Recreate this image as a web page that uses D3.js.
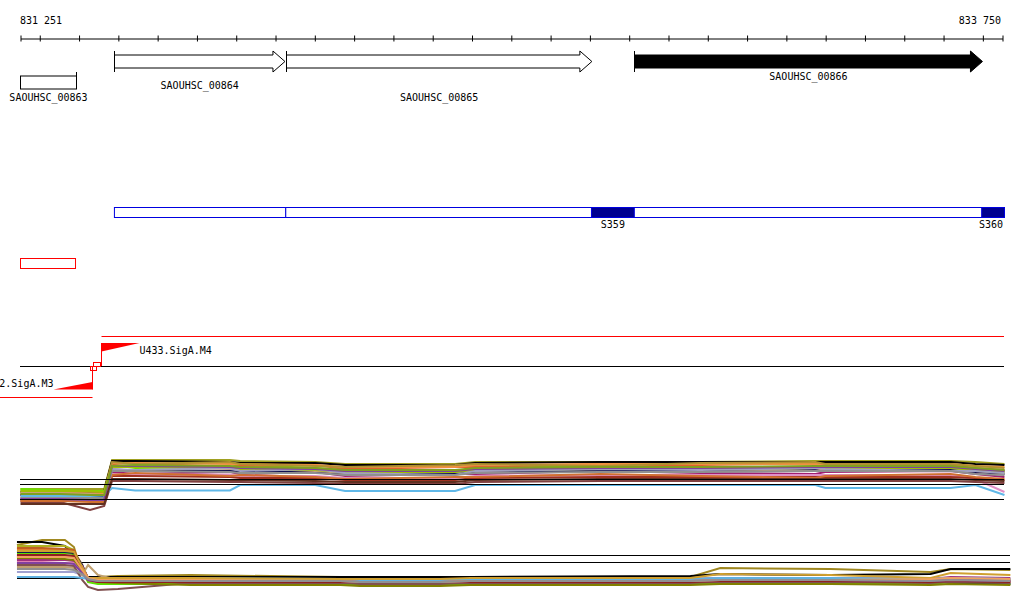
<!DOCTYPE html>
<html><head><meta charset="utf-8">
<script src="https://cdn.jsdelivr.net/npm/d3@7"></script>
<style>
body{margin:0;background:#fff}
svg{display:block}
text{font-family:"DejaVu Sans Mono",monospace;font-size:10px;fill:#000}
</style>
</head><body>
<svg id="c" width="1024" height="611"></svg>
<script>
// ---------- DATA ----------
const viewRange = [831251, 833750];
const axisEndLabels = ["831 251", "833 750"];
const tickValues = [831251,831300,831400,831500,831600,831700,831800,831900,832000,832100,832200,832300,832400,832500,832600,832700,832800,832900,833000,833100,833200,833300,833400,833500,833600,833700,833750];

const geneNames   = ["SAOUHSC_00863","SAOUHSC_00864","SAOUHSC_00865","SAOUHSC_00866"];
const geneStarts  = [831391, 831490, 831926, 832813];
const geneEnds    = [830900, 831924, 832705, 833699];
const geneStrands = ["-", "+", "+", "+"];

const segStarts = [831490, 831926];
const segEnds   = [831926, 833755];
const blockNames  = ["S359", "S360"];
const blockStarts = [832704, 833697];
const blockEnds   = [832813, 833755];

const redBoxStart = 831251, redBoxEnd = 831391;

const promoterNames = ["2.SigA.M3", "U433.SigA.M4"];
const promoterPos   = [831434, 831455];

// panel 1 (probe positions, bp)
const p1Pos = [831251,831352,831428,831464,831484,831543,831784,831810,832001,832077,832357,832408,832727,832981,833274,833299,833618,833681,833755];
const p1Refs = [6.3, 5.14, 2.14];
const p1Colors = ["#a0a020","#000000","#70e000","#e06030","#f09040","#b09030","#a02070","#101050","#e090c8","#c8a078","#804040","#60b8e8","#a03020","#a0c000","#a0a0c0","#d07030","#909090","#8040a0","#80a020","#603020"];
const p1Values = [
 [4.2,4.2,4.2,4.2,10.0,10.0,10.0,9.8,9.6,9.2,9.2,9.6,9.6,9.6,9.8,9.8,9.8,9.6,9.2],
 [3.6,3.6,3.6,3.8,9.8,9.8,9.6,9.4,9.4,9.0,9.0,9.4,9.6,9.6,9.6,9.6,9.6,9.2,9.0],
 [4.2,4.0,3.8,3.8,9.0,8.4,8.6,9.0,8.4,8.0,7.6,8.4,8.8,8.2,8.6,9.0,8.4,8.2,7.8],
 [3.0,3.0,2.8,2.8,9.2,9.4,8.6,8.8,9.0,8.2,8.6,8.6,9.2,8.8,8.4,8.8,9.0,8.4,8.0],
 [3.4,3.4,3.4,3.2,9.4,9.4,9.2,9.2,9.0,8.6,8.6,9.0,9.2,9.2,9.2,9.2,9.2,8.8,8.6],
 [3.8,3.8,3.6,3.6,9.6,9.2,9.6,9.2,8.8,8.6,9.0,9.2,8.8,9.4,9.6,9.2,9.2,8.8,8.4],
 [2.4,2.4,2.2,2.2,7.6,7.2,7.6,7.2,7.6,6.8,7.2,7.2,7.8,7.4,7.2,7.6,7.8,7.2,6.6],
 [3.0,3.0,2.8,2.8,8.0,8.0,7.8,7.6,7.6,7.2,7.2,7.6,7.8,7.8,8.0,8.0,8.0,7.6,7.2],
 [2.6,2.6,2.4,2.4,7.2,7.2,7.0,6.8,6.8,6.4,6.4,6.8,7.0,7.0,7.0,7.0,7.0,6.2,3.6],
 [3.4,3.4,3.2,3.0,8.4,8.8,8.2,8.4,7.8,7.4,7.8,7.8,8.4,8.2,7.8,8.2,8.6,7.8,7.4],
 [1.6,1.6,0.0,0.8,5.8,5.8,5.6,5.6,5.4,5.2,5.2,5.6,5.8,5.8,5.8,5.8,5.8,5.6,5.4],
 [2.8,2.8,2.8,2.9,4.4,3.9,3.9,5.0,5.0,3.8,3.8,5.0,5.0,5.0,5.0,4.4,4.4,5.0,3.0],
 [2.0,2.0,1.8,1.8,6.8,6.8,6.6,6.4,6.4,6.0,6.0,6.4,6.6,6.6,6.6,6.6,6.6,6.4,6.0],
 [3.8,3.8,3.8,3.6,8.6,8.6,8.4,8.2,8.0,7.6,7.6,8.0,8.2,8.2,8.4,8.4,8.4,8.0,7.6],
 [2.2,2.2,2.0,2.0,8.2,8.0,8.4,7.8,8.2,7.4,7.0,7.8,8.2,8.0,8.4,8.2,7.8,7.8,7.4],
 [1.8,1.8,1.6,1.6,7.0,7.4,6.8,7.0,6.6,6.2,6.6,6.6,7.2,6.8,6.4,6.8,7.2,6.6,6.2],
 [2.4,2.4,2.4,2.4,7.8,7.8,7.6,7.4,7.4,7.0,7.0,7.4,7.6,7.6,7.8,7.8,7.8,7.2,7.0],
 [2.2,2.2,2.0,2.0,8.8,8.8,8.6,8.4,8.2,7.8,7.8,8.2,8.4,8.4,8.6,8.6,8.6,8.2,7.8],
 [3.2,3.2,3.0,3.0,8.8,9.0,8.8,8.6,8.4,8.0,8.0,8.4,8.6,8.6,8.8,8.8,8.8,8.4,8.0],
 [1.2,1.2,1.2,1.2,6.2,6.2,6.0,6.0,5.8,5.6,5.6,6.0,6.2,6.2,6.2,6.2,6.2,6.0,5.8]
];

// panel 2
const p2Pos = [831242,831306,831364,831387,831408,831423,831448,831499,831683,832065,832115,832319,832396,832956,833032,833312,833567,833618,833770];
const p2Refs = [8.0, 6.54, 3.5];
const p2Colors = ["#a08820","#000000","#b0b020","#e08030","#c06020","#60e000","#e04040","#102050","#a03080","#e080b0","#a0a0d0","#c0a070","#805050","#60b0e0","#808000","#902020","#d0a030","#8040a0","#f0a060","#909090"];
const p2Values = [
 [10.0,11.0,11.0,9.6,4.0,3.6,3.6,3.8,4.0,3.6,3.6,3.4,3.6,3.6,5.4,5.2,4.6,5.2,5.0],
 [10.6,10.6,9.8,8.0,4.0,3.6,3.6,3.6,3.6,3.6,3.6,3.6,3.6,3.8,4.2,4.0,4.2,5.2,5.2],
 [9.8,9.8,9.8,9.0,4.6,3.2,3.0,3.0,3.0,3.0,2.8,2.8,3.0,3.0,3.2,3.2,3.0,3.2,3.0],
 [9.2,9.2,9.0,8.8,6.0,3.0,2.6,2.6,2.6,2.8,2.6,2.6,2.8,2.8,3.0,3.0,3.0,3.2,3.0],
 [9.4,9.4,9.2,9.0,5.0,2.8,2.4,2.4,2.4,2.4,2.2,2.2,2.4,2.4,2.6,2.6,2.4,2.8,2.6],
 [8.4,8.4,8.4,8.2,5.0,2.6,2.2,2.2,2.2,2.2,2.0,2.0,2.2,2.4,2.4,2.4,2.2,2.6,2.2],
 [7.8,7.8,7.8,7.6,5.4,3.4,2.8,2.8,2.8,2.8,2.8,2.8,2.8,2.8,3.0,3.0,2.8,3.0,2.8],
 [8.6,8.6,8.6,8.4,6.0,3.2,3.0,3.0,3.0,3.0,3.0,3.0,3.0,3.0,3.0,3.0,3.0,2.4,2.2],
 [7.0,7.0,7.0,6.8,5.8,3.4,3.0,3.2,3.2,3.2,3.0,3.0,3.2,3.2,3.4,3.4,3.2,3.6,3.4],
 [6.6,6.6,6.4,6.4,5.0,3.0,2.6,2.8,2.8,2.8,2.6,2.6,2.8,2.8,3.0,3.0,2.8,3.2,3.0],
 [4.6,4.6,4.6,4.6,4.0,3.2,3.0,3.2,3.2,3.2,3.0,3.0,3.2,3.2,3.4,3.4,3.2,3.4,3.2],
 [5.6,5.6,5.6,5.4,4.0,6.0,4.0,3.0,3.0,3.0,2.8,2.8,3.0,3.0,3.2,3.2,3.0,3.4,3.0],
 [6.0,6.0,6.0,5.8,3.0,1.6,1.0,1.2,2.4,2.4,2.2,2.2,2.4,2.4,2.6,2.6,2.4,2.6,2.4],
 [3.6,3.6,3.6,3.6,3.4,3.2,3.2,3.2,3.4,3.2,3.0,3.0,3.2,3.2,3.4,3.4,3.2,3.4,3.2],
 [7.4,7.4,7.2,7.0,5.0,3.2,2.6,2.4,2.0,2.0,1.8,1.8,2.0,2.0,2.2,2.2,2.0,2.2,2.0],
 [8.0,8.0,8.0,7.8,5.2,3.0,2.6,2.6,2.6,2.6,2.6,2.6,2.6,2.6,2.8,2.8,2.6,2.8,2.6],
 [8.8,8.8,8.8,8.6,5.6,3.4,3.4,3.4,3.4,3.2,3.2,3.2,3.4,3.4,4.2,4.0,3.4,4.4,4.0],
 [6.4,6.4,6.4,6.2,4.4,3.0,2.8,2.8,2.8,2.8,2.6,2.6,2.8,2.8,3.0,3.0,2.8,3.0,2.8],
 [7.6,7.6,7.6,7.4,5.0,3.4,3.0,3.0,3.0,2.8,2.6,2.6,2.8,2.8,3.0,3.0,3.2,3.4,3.2],
 [5.2,5.2,5.2,5.0,4.2,3.2,2.8,2.8,2.8,2.8,2.6,2.6,2.8,2.8,3.0,3.0,2.8,3.0,2.8]
];

// ---------- DRAW ----------
const svg = d3.select("#c");
const x = d3.scaleLinear().domain(viewRange).range([20.5, 1002.5]);

// axis
const axisY = 38.5;
const ax = svg.append("g").attr("transform", `translate(0,${axisY})`)
  .call(d3.axisBottom(x).tickValues(tickValues).tickSize(3).tickSizeOuter(0).tickFormat(""));
ax.select(".domain").attr("stroke", "#000");
ax.selectAll(".tick line").attr("y1", -3).attr("y2", 3).attr("stroke", "#000");
svg.append("text").attr("x", 20).attr("y", 24).text(axisEndLabels[0]);
svg.append("text").attr("x", 1001).attr("y", 24).attr("text-anchor", "end").text(axisEndLabels[1]);

// genes
const geneLayout = [
  {cy: 82.5, labelY: 100.5},
  {cy: 61.5, labelY: 89},
  {cy: 61.5, labelY: 101},
  {cy: 61.5, labelY: 80}
];
const geneFill = ["#fff", "#fff", "#fff", "#000"];
const gG = svg.append("g");
geneNames.forEach((name, i) => {
  const L = geneLayout[i];
  const bh = 6.5, hh = 10.5, hl = 12;
  if (geneStrands[i] === "+") {
    const x0 = Math.round(x(geneStarts[i])) + 0.5, x1 = x(geneEnds[i]), xh = x1 - hl;
    const pts = [[x0, L.cy - bh], [xh, L.cy - bh], [xh, L.cy - hh], [x1, L.cy], [xh, L.cy + hh], [xh, L.cy + bh], [x0, L.cy + bh]];
    gG.append("polygon").attr("points", pts.map(p => p.join(",")).join(" "))
      .attr("fill", geneFill[i]).attr("stroke", "#000").attr("stroke-width", 1);
    gG.append("line").attr("x1", x0).attr("x2", x0).attr("y1", L.cy - hh).attr("y2", L.cy + hh).attr("stroke", "#000");
    gG.append("text").attr("x", (x0 + x1) / 2).attr("y", L.labelY).attr("text-anchor", "middle").text(name);
  } else {
    const xs = Math.round(x(geneStarts[i])) + 0.5;
    const xe = Math.max(x(geneEnds[i]), x(viewRange[0]));
    gG.append("rect").attr("x", xe).attr("y", L.cy - bh).attr("width", xs - xe).attr("height", 2 * bh)
      .attr("fill", geneFill[i]).attr("stroke", "#000");
    gG.append("line").attr("x1", xs).attr("x2", xs).attr("y1", L.cy - hh).attr("y2", L.cy + bh).attr("stroke", "#000");
    gG.append("text").attr("x", (xs + xe) / 2).attr("y", L.labelY).attr("text-anchor", "middle").text(name);
  }
});

// segment track
const segY = 207.5, segH = 10;
segStarts.forEach((s, i) => {
  svg.append("rect").attr("x", x(s)).attr("y", segY).attr("width", x(segEnds[i]) - x(s)).attr("height", segH)
    .attr("fill", "#fff").attr("stroke", "#0000e0").attr("stroke-width", 1);
});
blockStarts.forEach((s, i) => {
  svg.append("rect").attr("x", x(s)).attr("y", segY).attr("width", x(blockEnds[i]) - x(s)).attr("height", segH)
    .attr("fill", "#000090").attr("stroke", "#0000e0").attr("stroke-width", 1);
  const last = i === blockStarts.length - 1;
  svg.append("text").attr("x", last ? 1003 : (x(s) + x(blockEnds[i])) / 2).attr("y", 227.5)
    .attr("text-anchor", last ? "end" : "middle").text(blockNames[i]);
});

// red box
svg.append("rect").attr("x", x(redBoxStart)).attr("y", 258.5).attr("width", x(redBoxEnd) - x(redBoxStart)).attr("height", 10)
  .attr("fill", "none").attr("stroke", "#ff0000");

// promoter track
const red = "#ff0000";
const pm3 = Math.round(x(promoterPos[0])) + 0.5, pm4 = Math.round(x(promoterPos[1])) + 0.5;
svg.append("line").attr("x1", 20).attr("x2", 1004).attr("y1", 366.5).attr("y2", 366.5).attr("stroke", "#000");
svg.append("line").attr("x1", pm4).attr("x2", 1004).attr("y1", 336.5).attr("y2", 336.5).attr("stroke", red);
svg.append("line").attr("x1", 0).attr("x2", pm3).attr("y1", 397.5).attr("y2", 397.5).attr("stroke", red);
svg.append("line").attr("x1", pm4).attr("x2", pm4).attr("y1", 343).attr("y2", 366).attr("stroke", red);
svg.append("line").attr("x1", pm3).attr("x2", pm3).attr("y1", 366).attr("y2", 389.5).attr("stroke", red);
svg.append("polygon").attr("points", `${pm4},343 ${pm4 + 38},343 ${pm4},351.5`).attr("fill", red);
svg.append("polygon").attr("points", `${pm3 - 39},389.5 ${pm3},389.5 ${pm3},382`).attr("fill", red);
svg.append("rect").attr("x", pm3 - 2).attr("y", 366.5).attr("width", 6).attr("height", 4).attr("fill", "none").attr("stroke", red);
svg.append("rect").attr("x", pm3 + 1).attr("y", 362.5).attr("width", 7).attr("height", 4).attr("fill", "none").attr("stroke", red);
svg.append("text").attr("x", pm4 + 38).attr("y", 354).text(promoterNames[1]);
svg.append("text").attr("x", pm3 - 39).attr("y", 387).attr("text-anchor", "end").text(promoterNames[0]);

// expression panels
function panel(pos, values, colors, refs, yScale, x0, x1, refsOnTop) {
  const g = svg.append("g");
  const line = d3.line().x((d, i) => x(pos[i])).y(d => yScale(d));
  const drawRefs = () => refs.forEach(r => {
    g.append("line").attr("x1", x0).attr("x2", x1).attr("y1", Math.round(yScale(r)) + 0.5).attr("y2", Math.round(yScale(r)) + 0.5)
      .attr("stroke", "#000").attr("stroke-width", 1.2);
  });
  if (!refsOnTop) drawRefs();
  values.forEach((v, k) => {
    g.append("path").attr("d", line(v)).attr("fill", "none").attr("stroke", colors[k]).attr("stroke-width", 2);
  });
  if (refsOnTop) drawRefs();
}
const y1 = d3.scaleLinear().domain([0, 10]).range([510, 460]);
const y2 = d3.scaleLinear().domain([0, 10]).range([595, 545]);
panel(p1Pos, p1Values, p1Colors, p1Refs, y1, 20, 1004, true);
panel(p2Pos, p2Values, p2Colors, p2Refs, y2, 17, 1010, false);
</script>
</body></html>
